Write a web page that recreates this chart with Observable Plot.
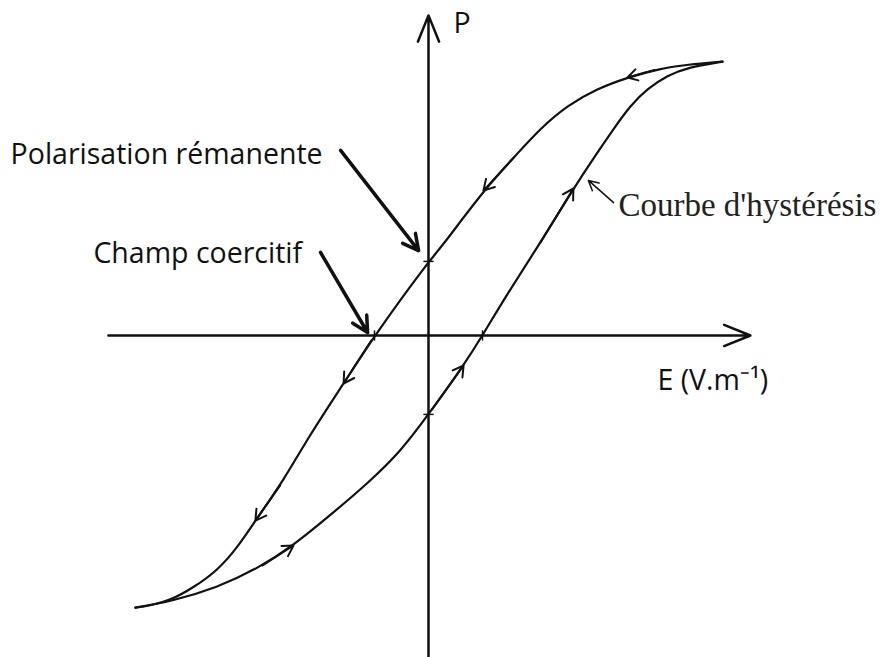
<!DOCTYPE html>
<html><head><meta charset="utf-8">
<script src="https://cdn.jsdelivr.net/npm/d3@7"></script>
<script src="https://cdn.jsdelivr.net/npm/@observablehq/plot@0.6"></script>
<style>body{margin:0;background:#fff}</style>
</head><body><div id="chart"></div>
<script>
// Descending branch (E decreasing)
const upperE = [9.8, 8.63, 7.73, 6.63, 5.63, 4.63, 3.73, 2.97, 1.83, 0.4, 0, -1.8, -2.83, -4.03, -4.83, -5.77, -6.37, -7.03, -7.83, -8.6, -9.27, -9.77];
const upperP = [9.13, 9.03, 8.9, 8.6, 8.23, 7.67, 6.9, 6.07, 4.83, 2.9, 2.47, 0, -1.6, -3.43, -4.83, -6.17, -7.07, -7.83, -8.4, -8.83, -9.0, -9.07];
// Ascending branch (E increasing)
const lowerE = [-9.77, -8.6, -7.03, -5.7, -4.5, -3.17, -2.03, -0.93, 0, 1.17, 1.8, 2.63, 3.63, 4.83, 5.63, 6.13, 6.73, 7.3, 7.97, 8.63, 9.8];
const lowerP = [-9.07, -8.87, -8.4, -7.77, -7.0, -5.9, -4.93, -3.87, -2.63, -1.0, 0, 1.4, 2.93, 4.9, 6.1, 6.83, 7.67, 8.23, 8.67, 8.93, 9.13];
// points of each branch that carry a direction arrow
const upperArrowIdx = [3, 8, 12, 15];
const lowerArrowIdx = [4, 9, 13];
// remanent polarisation and coercive field marks
const remanentP = [2.47, -2.63];
const coerciveE = [-1.8, 1.8];
// axis extents
const axisE = [-10.67, 10.73];
const axisP = [-10.9, 10.67];
// text labels
const labelText = ["P", "E (V.m⁻¹)", "Polarisation rémanente", "Champ coercitif", "Courbe d'hystérésis"];
const labelE = [0.83, 7.63, -13.93, -11.17, 6.33];
const labelP = [10.1, -1.83, 5.73, 2.43, 4.0];
const labelSerif = [false, false, false, false, true];
// annotation pointers: tail -> tip
const pointerE1 = [-2.93, -3.6];
const pointerP1 = [6.17, 2.77];
const pointerE2 = [-0.33, -2.03];
const pointerP2 = [2.83, 0.1];
const curvePointerE1 = [6.17];
const curvePointerP1 = [4.43];
const curvePointerE2 = [5.33];
const curvePointerP2 = [5.17];

const upper = upperE.map((E, i) => ({E, P: upperP[i]}));
const lower = lowerE.map((E, i) => ({E, P: lowerP[i]}));
const dirArrows = [
  ...upperArrowIdx.map(i => ({x1: upper[i-1].E, y1: upper[i-1].P, x2: upper[i].E, y2: upper[i].P})),
  ...lowerArrowIdx.map(i => ({x1: lower[i-1].E, y1: lower[i-1].P, x2: lower[i].E, y2: lower[i].P}))
];
const labels = labelText.map((t, i) => ({t, E: labelE[i], P: labelP[i], serif: labelSerif[i]}));
const pointers = pointerE1.map((e, i) => ({x1: e, y1: pointerP1[i], x2: pointerE2[i], y2: pointerP2[i]}));
const curvePointers = curvePointerE1.map((e, i) => ({x1: e, y1: curvePointerP1[i], x2: curvePointerE2[i], y2: curvePointerP2[i]}));
const tick = 0.17;
const ink = "#111";

const chart = Plot.plot({
  width: 880, height: 657,
  margin: 0,
  x: {domain: [-428/30, 452/30], range: [0, 880], axis: null},
  y: {domain: [-322/30, 335/30], range: [657, 0], axis: null},
  style: {background: "#fff"},
  marks: [
    Plot.arrow([0], {x1: axisE[0], x2: axisE[1], y1: 0, y2: 0, stroke: ink, strokeWidth: 2.5, headLength: 17, headAngle: 44}),
    Plot.arrow([0], {x1: 0, x2: 0, y1: axisP[0], y2: axisP[1], stroke: ink, strokeWidth: 2.5, headLength: 17, headAngle: 44}),
    Plot.line(upper, {x: "E", y: "P", curve: "basis", stroke: ink, strokeWidth: 2.2}),
    Plot.line(lower, {x: "E", y: "P", curve: "basis", stroke: ink, strokeWidth: 2.2}),
    Plot.arrow(dirArrows, {x1: "x1", y1: "y1", x2: "x2", y2: "y2", stroke: ink, strokeWidth: 2, headLength: 9, headAngle: 60, insetStart: 6}),
    Plot.link(remanentP, {x1: -tick, x2: tick, y1: d => d, y2: d => d, stroke: ink, strokeWidth: 1.5}),
    Plot.link(coerciveE, {y1: -tick, y2: tick, x1: d => d, x2: d => d, stroke: ink, strokeWidth: 1.5}),
    Plot.arrow(pointers, {x1: "x1", y1: "y1", x2: "x2", y2: "y2", stroke: ink, strokeWidth: 3.5, headLength: 7.5, headAngle: 55}),
    Plot.arrow(curvePointers, {x1: "x1", y1: "y1", x2: "x2", y2: "y2", stroke: ink, strokeWidth: 1.5, headLength: 11, headAngle: 55}),
    Plot.text(labels.filter(d => !d.serif), {x: "E", y: "P", text: "t", textAnchor: "start", lineAnchor: "bottom", fill: ink, fontSize: 28.5, fontFamily: "Open Sans"}),
    Plot.text(labels.filter(d => d.serif), {x: "E", y: "P", text: "t", textAnchor: "start", lineAnchor: "bottom", fill: "#222", fontSize: 33, fontFamily: "Liberation Serif"})
  ]
});
document.getElementById("chart").appendChild(chart);
</script>
</body></html>
